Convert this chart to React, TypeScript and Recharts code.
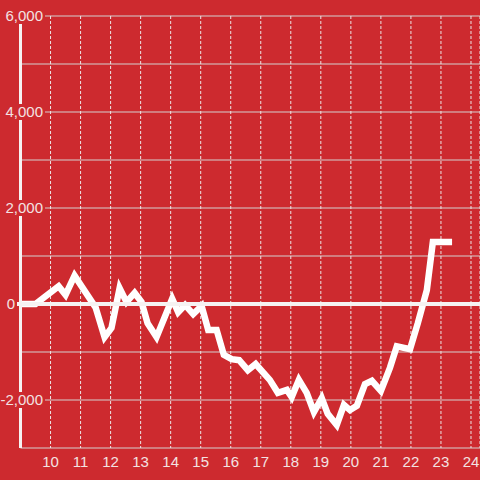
import React from "react";
import { LineChart, Line, XAxis, YAxis, CartesianGrid } from "recharts";

const times = [9.0, 9.5, 10.27, 10.5, 10.8, 11.5, 11.8, 12.03, 12.3, 12.53, 12.8, 13.03, 13.23, 13.53, 14.05, 14.25, 14.48, 14.75, 15.03, 15.25, 15.53, 15.77, 16.03, 16.28, 16.57, 16.83, 17.3, 17.57, 17.87, 18.03, 18.27, 18.53, 18.77, 19.03, 19.23, 19.53, 19.77, 19.97, 20.2, 20.47, 20.7, 21.0, 21.3, 21.53, 21.97, 22.23, 22.53, 22.73, 23.37];
const values = [0, 0, 370, 190, 590, -70, -690, -500, 330, 40, 230, 40, -400, -690, 110, -170, -20, -210, -40, -540, -540, -1060, -1150, -1170, -1380, -1250, -1580, -1850, -1790, -1940, -1580, -1850, -2250, -1960, -2290, -2520, -2100, -2210, -2120, -1670, -1600, -1810, -1330, -880, -940, -400, 290, 1290, 1290];
const xTicks = [10, 11, 12, 13, 14, 15, 16, 17, 18, 19, 20, 21, 22, 23, 24];
const yTicks = [-3000, -2000, -1000, 0, 1000, 2000, 3000, 4000, 5000, 6000];

const data = times.map((t, i) => ({ t, v: values[i] }));

const BG = "#cd2a2f";
const TEXT = "#f3e2e2";
const FONT = "'Liberation Sans', Arial, sans-serif";

const YTick = (props: any) => {
  const { y, payload } = props;
  const v = payload.value;
  if (v % 2000 !== 0) return <g />;
  if (v === 0) {
    return (
      <g>
        <rect x={0} y={y - 8} width={17} height={16} fill={BG} />
        <line x1={17} x2={480} y1={y} y2={y} stroke="#f6f2f2" strokeWidth={4} />
        <text x={15} y={y + 5} textAnchor="end" fill={TEXT} fontSize={15} fontFamily={FONT}>
          0
        </text>
      </g>
    );
  }
  return (
    <g>
      <rect x={0} y={y - 8} width={45} height={16} fill={BG} />
      <text x={43} y={y + 5} textAnchor="end" fill={TEXT} fontSize={15} fontFamily={FONT}>
        {v.toLocaleString("en-US")}
      </text>
    </g>
  );
};

const XTick = (props: any) => {
  const { x, payload } = props;
  return (
    <text x={x} y={467} textAnchor="middle" fill={TEXT} fontSize={15} fontFamily={FONT}>
      {payload.value}
    </text>
  );
};

export default function App() {
  return (
    <div style={{ position: "absolute", left: 0, top: 0, width: 480, height: 480, background: BG }}>
      <LineChart
        width={480}
        height={480}
        data={data}
        margin={{ top: 16, right: 0, bottom: 0, left: 0 }}
      >
        <CartesianGrid horizontal={true} vertical={false} stroke="#d4d0d0" strokeWidth={1} />
        <CartesianGrid horizontal={false} vertical={true} stroke="#ece6e6" strokeDasharray="3 2" strokeWidth={1} />
        <XAxis
          dataKey="t"
          type="number"
          domain={[9, 24.3]}
          ticks={xTicks}
          height={32}
          axisLine={false}
          tickLine={false}
          tick={<XTick />}
          allowDataOverflow
        />
        <YAxis
          type="number"
          domain={[-3000, 6000]}
          ticks={yTicks}
          width={20.5}
          axisLine={{ stroke: "#f6f2f2", strokeWidth: 3 }}
          tickLine={false}
          tick={<YTick />}
          interval={0}
        />
        <Line
          type="linear"
          dataKey="v"
          stroke="#ffffff"
          strokeWidth={6.5}
          dot={false}
          activeDot={false}
          isAnimationActive={false}
        />
      </LineChart>
    </div>
  );
}
